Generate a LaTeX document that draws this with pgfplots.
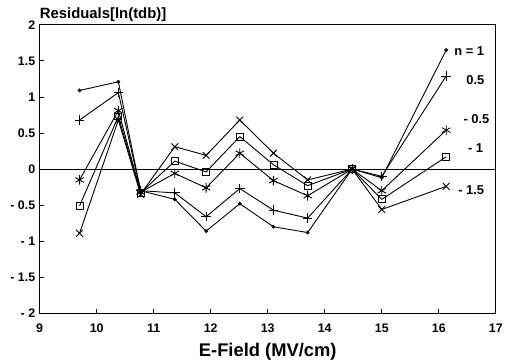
\documentclass[border=0pt]{standalone}
\usepackage{fontspec}
\setmainfont{Liberation Sans}
\usepackage{pgfplots}
\pgfplotsset{compat=1.18}
\begin{document}
\begin{tikzpicture}
\begin{axis}[
  scale only axis,
  width=460pt, height=291pt,
  xmin=9, xmax=17, ymin=-2, ymax=2,
  xtick={9,10,...,17},
  ytick={-2,-1.5,-1,-0.5,0,0.5,1,1.5,2},
  yticklabels={- 2,- 1.5,- 1,- 0.5,0,0.5,1,1.5,2},
  xticklabels={9,10,11,12,13,14,15,16,17},
  tick align=inside,
  xtick pos=bottom, ytick pos=left,
  major tick length=4pt,
  tick style={black, line width=0.8pt},
  axis line style={line width=0.9pt},
  ticklabel style={font=\bfseries\fontsize{12.5}{14}\selectfont},
  xticklabel style={yshift=-7pt},
  yticklabel style={xshift=-1pt},
  xlabel={E-Field (MV/cm)},
  xlabel style={font=\bfseries\fontsize{18.5}{20}\selectfont, yshift=-4pt},
  every axis plot/.append style={black, line width=0.9pt},
  clip=false,
]
\addplot[black, line width=0.6pt, forget plot] coordinates {(9,0) (17,0)};
% n = 1
\addplot[mark=*, mark size=1.4pt] coordinates {
(9.7,1.09) (10.38,1.21) (10.77,-0.3) (11.37,-0.42) (11.92,-0.86) (12.51,-0.48) (13.1,-0.8) (13.7,-0.88) (14.48,0) (15.0,-0.12) (16.13,1.65)};
% n = 0.5
\addplot[mark=+, mark size=4.8pt] coordinates {
(9.7,0.68) (10.38,1.06) (10.77,-0.3) (11.37,-0.33) (11.92,-0.66) (12.51,-0.27) (13.1,-0.57) (13.7,-0.68) (14.48,0) (15.0,-0.1) (16.13,1.29)};
% n = -0.5
\addplot[mark=asterisk, mark size=4.8pt] coordinates {
(9.7,-0.15) (10.38,0.81) (10.77,-0.32) (11.37,-0.06) (11.92,-0.26) (12.51,0.22) (13.1,-0.16) (13.7,-0.37) (14.48,0) (15.0,-0.3) (16.13,0.54)};
% n = -1
\addplot[mark=square, mark size=3.5pt, mark options={line width=0.8pt}] coordinates {
(9.7,-0.51) (10.38,0.73) (10.77,-0.33) (11.37,0.11) (11.92,-0.04) (12.51,0.45) (13.1,0.06) (13.7,-0.23) (14.48,0) (15.0,-0.42) (16.13,0.17)};
% n = -1.5
\addplot[mark=x, mark size=4.8pt] coordinates {
(9.7,-0.89) (10.38,0.68) (10.77,-0.35) (11.37,0.31) (11.92,0.19) (12.51,0.68) (13.1,0.22) (13.7,-0.15) (14.48,0) (15.0,-0.56) (16.13,-0.24)};
\tikzset{lab/.style={anchor=west, inner sep=0pt, font=\bfseries\fontsize{13}{15}\selectfont}}
\node[lab] at (axis cs:16.27,1.63) {n = 1};
\node[lab] at (axis cs:16.48,1.23) {0.5};
\node[lab] at (axis cs:16.43,0.70) {- 0.5};
\node[lab] at (axis cs:16.51,0.29) {- 1};
\node[lab] at (axis cs:16.34,-0.29) {- 1.5};
\node[anchor=base west, font=\bfseries\fontsize{15}{17}\selectfont, inner sep=0pt] at ([yshift=6pt]rel axis cs:0,1) {Residuals[ln(tdb)]};
\end{axis}
\path[use as bounding box] (-40pt,-50pt) rectangle (466pt,316pt);
\end{tikzpicture}
\end{document}
